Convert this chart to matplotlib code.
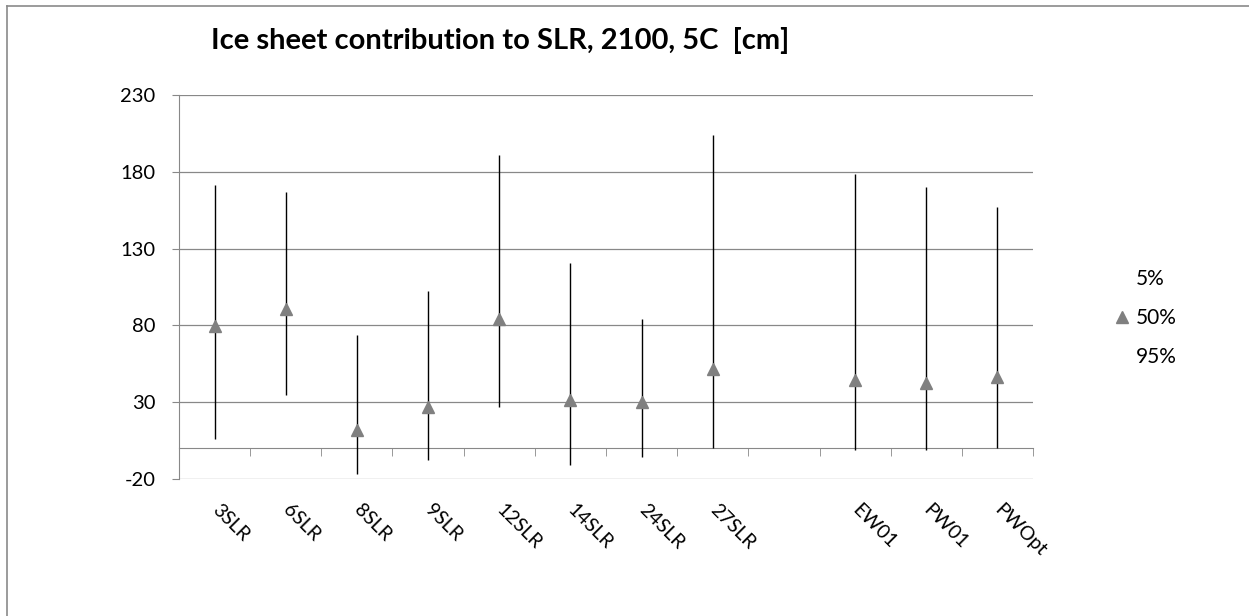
import numpy as np
import matplotlib
matplotlib.use('Agg')
import matplotlib.pyplot as plt
from matplotlib.lines import Line2D
from matplotlib.ticker import MultipleLocator

plt.rcParams['font.family'] = ['Lato', 'DejaVu Sans']
plt.rcParams['axes.unicode_minus'] = False

#--- data (cm); '' is the empty slot between groups
models = ['3SLR', '6SLR', '8SLR', '9SLR', '12SLR', '14SLR', '24SLR', '27SLR', '', 'EW01', 'PW01', 'PWOpt']
p05 = [6.3, 34.5, -16.5, -7.4, 26.9, -11.0, -5.6, 0.0, np.nan, -0.9, -1.3, 0.0]
p50 = [79.4, 91.0, 11.7, 26.9, 84.2, 31.7, 30.2, 51.6, np.nan, 44.3, 42.5, 46.4]
p95 = [171.6, 166.9, 74.0, 102.2, 190.8, 120.6, 84.2, 204.2, np.nan, 178.8, 170.1, 157.1]
yticks = [-20, 30, 80, 130, 180, 230]

grey = '#888888'
x = np.arange(len(models))

fig = plt.figure(figsize=(12.49, 6.16), dpi=100)
ax = fig.add_axes([179/1249, 1-479/616, 854/1249, 384/616])

# high-low lines and median markers
ax.vlines(x, p05, p95, color='black', lw=1.0, zorder=3)
ax.plot(x, p05, ls='none', marker='none', label='5%')
ax.plot(x, p50, ls='none', marker='^', ms=9, color='#808080', label='50%', zorder=4)
ax.plot(x, p95, ls='none', marker='none', label='95%')

ax.set_xlim(-0.5, len(models)-0.5)
ax.set_ylim(-20, 230)
ax.set_yticks(yticks)
ax.yaxis.grid(True, color=grey, lw=0.9)
ax.set_axisbelow(True)

# category axis sits on the zero line
ax.spines['bottom'].set_position(('data', 0))
ax.spines['bottom'].set_color(grey)
ax.spines['left'].set_color(grey)
ax.spines['top'].set_visible(False)
ax.spines['right'].set_visible(False)

ax.set_xticks(x)
ax.set_xticklabels(models, rotation=-45, ha='left', va='center', rotation_mode='anchor')
ax.xaxis.set_minor_locator(MultipleLocator(1, offset=0.5))
ax.tick_params(axis='x', which='major', length=0, pad=42, labelsize=14)
ax.tick_params(axis='x', which='minor', length=6, color=grey, direction='out')
ax.tick_params(axis='y', length=5, color=grey, pad=12, labelsize=14.5)

fig.text(500/1249, 1-40/616, 'Ice sheet contribution to SLR, 2100, 5C  [cm]',
         ha='center', va='center', fontsize=21, fontweight='bold')

leg = ax.legend(loc='upper left', bbox_to_anchor=(1105/1249, 1-261/616), bbox_transform=fig.transFigure,
                frameon=False, fontsize=15, handlelength=0.8, handletextpad=0.3, labelspacing=0.9,
                borderaxespad=0)

# chart area border (left and top edges visible)
fig.add_artist(Line2D([7/1249, 7/1249], [0, 1-6/616], transform=fig.transFigure, color='#8a8a8a', lw=1.2))
fig.add_artist(Line2D([7/1249, 1], [1-6/616, 1-6/616], transform=fig.transFigure, color='#8a8a8a', lw=1.2))

plt.savefig('out.png', dpi=100)
